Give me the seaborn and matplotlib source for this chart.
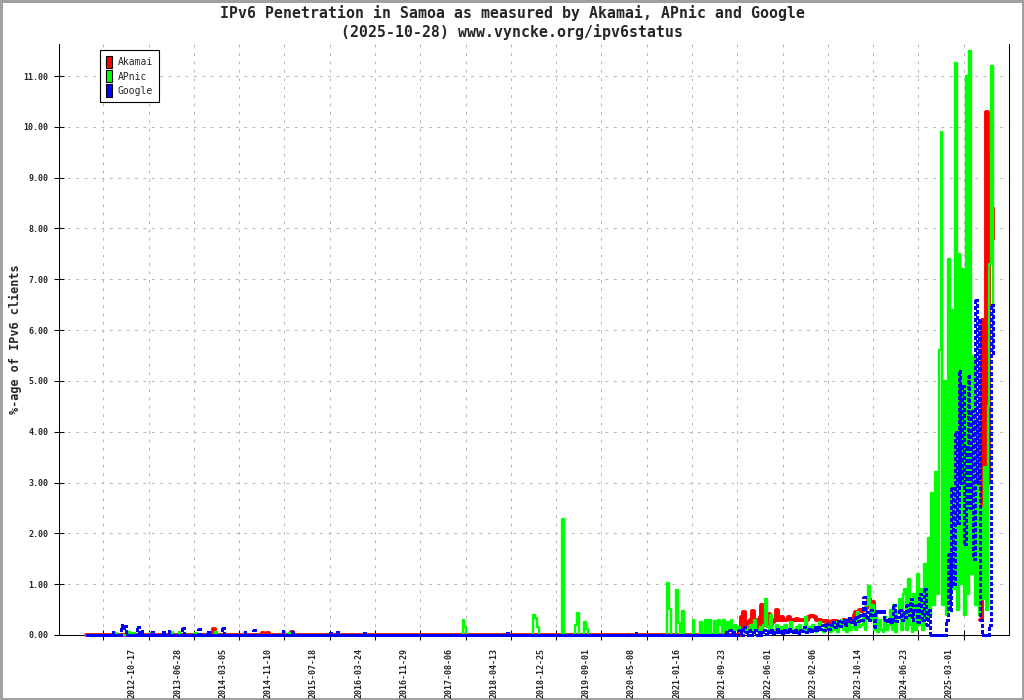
import pandas as pd
import matplotlib.pyplot as plt
import seaborn as sns
from matplotlib.patches import Patch
from matplotlib.ticker import NullFormatter

# one sample every 10 days, ending on the report date
END_DATE = "2025-10-28"
N_SAMPLES = 502

series_names = ["Akamai", "APnic", "Google"]
series_colors = ["#ff0000", "#00ff00", "#0000ff"]

tick_labels = ["2012-10-17", "2013-06-28", "2014-03-05", "2014-11-10", "2015-07-18",
               "2016-03-24", "2016-11-29", "2017-08-06", "2018-04-13", "2018-12-25",
               "2019-09-01", "2020-05-08", "2021-01-16", "2021-09-23", "2022-06-01",
               "2023-02-06", "2023-10-14", "2024-06-23", "2025-03-01"]

# isolated values before late 2021 (date -> % of IPv6 clients), zero otherwise
akamai_spikes = {"2014-01-11": 0.11, "2014-10-09": 0.04, "2014-11-07": 0.04, "2015-03-11": 0.06}

apnic_spikes = {"2012-07-17": 0.04, "2012-09-21": 0.05, "2012-10-24": 0.04, "2013-01-26": 0.04,
                "2013-05-28": 0.05, "2013-06-30": 0.05, "2013-10-02": 0.04, "2014-01-20": 0.05,
                "2014-06-30": 0.04, "2015-02-06": 0.06, "2015-02-28": 0.04,
                "2017-10-23": 0.29, "2017-11-02": 0.15,
                "2018-11-12": 0.39, "2018-11-23": 0.33, "2018-12-04": 0.15,
                "2019-04-25": 2.28, "2019-07-06": 0.2, "2019-07-16": 0.43,
                "2019-08-21": 0.26, "2019-09-01": 0.12,
                "2020-11-26": 1.02, "2020-12-06": 0.52, "2021-01-15": 0.89, "2021-01-25": 0.24,
                "2021-02-06": 0.47, "2021-04-15": 0.3, "2021-05-18": 0.25, "2021-06-20": 0.3,
                "2021-07-12": 0.3, "2021-08-09": 0.28, "2021-09-03": 0.3, "2021-09-13": 0.2}

google_spikes = {"2012-06-29": 0.06, "2012-08-14": 0.2, "2012-08-28": 0.14, "2012-09-10": 0.18,
                 "2012-11-13": 0.15, "2012-12-02": 0.08, "2013-02-01": 0.05, "2013-04-08": 0.06,
                 "2013-05-05": 0.08, "2013-07-20": 0.14, "2013-10-18": 0.12, "2013-12-05": 0.06,
                 "2014-03-04": 0.14, "2014-06-24": 0.05, "2014-08-18": 0.1, "2015-01-24": 0.08,
                 "2015-03-11": 0.06, "2015-10-07": 0.04, "2015-11-24": 0.06, "2016-04-17": 0.04,
                 "2018-06-20": 0.04, "2020-05-25": 0.04}

# last 150 samples (10-day steps, 2021-09-29 .. 2025-10-28); None = no data
akamai_recent = [0, 0, 0, 0, 0, 0, 0, 0, 0,
                 0.1, 0.35, 0.45, 0.15, 0.25, 0.1, 0.3, 0.48, 0.2, 0.3, 0.15, 0.35, 0.6, 0.2,
                 0.25, 0.3, 0.42, 0.2, 0.25, 0.3, 0.5, 0.3,
                 0.3, 0.35, 0.3, 0.3, 0.32, 0.35, 0.3, 0.3, 0.3, 0.32, 0.3, 0.3, 0.3, 0.3, 0.3,
                 0.3, 0.35, 0.38, 0.38, 0.36, 0.3, 0.3, 0.3, 0.27, 0.27,
                 0.25, 0.28, 0.22, 0.25, 0.28, 0.22, 0.28, 0.25, 0.22, 0.28, 0.3, 0.25, 0.28, 0.3, 0.25,
                 0.3, 0.4, 0.45, 0.45, 0.5, 0.48, 0.5, 0.5, 0.55, 0.7, 0.55, 0.65, 0.5]
akamai_recent += [None] * 58
akamai_recent += [0.3, 6.2, 1.4, 10.3, 3.0, 9.4, 7.8, 8.4]

apnic_recent = [0.3, 0.05, 0.25, 0.1, 0.3, 0.05, 0.2, 0.1, 0.15, 0.05,
                0.1, 0.05, 0.15, 0.1, 0.05, 0.2, 0.1, 0.3, 0.1, 0.05, 0.15, 0.1, 0.2, 0.7,
                0.15, 0.1, 0.4, 0.1, 0.05, 0.2, 0.1,
                0.05, 0.15, 0.1, 0.2, 0.05, 0.1, 0.25, 0.1, 0.05, 0.15, 0.1, 0.2, 0.05, 0.1, 0.35,
                0.1, 0.15, 0.05, 0.2, 0.1, 0.05, 0.15, 0.25, 0.1, 0.05, 0.2, 0.1, 0.15, 0.05, 0.2,
                0.1, 0.25, 0.05, 0.15, 0.3, 0.1, 0.2, 0.05, 0.25, 0.1, 0.15, 0.3, 0.1, 0.45,
                0.15, 0.2, 0.35, 0.1, 0.6, 0.97,
                0.3, 0.6, 0.1, 0.4, 0.05, 0.3, 0.1, 0.05, 0.35, 0.1, 0.2, 0.5, 0.1, 0.6, 0.05,
                0.45, 0.7, 0.1, 0.8,
                0.9, 0.1, 1.1, 0.2, 0.05, 0.8, 0.1, 1.2, 0.2, 0.9, 0.1, 1.4, 0.3, 1.9, 0.4,
                2.8, 0.6, 3.2, 0.8, 5.6, 9.9, 0.6, 5.0, 0.4, 7.4, 0.7, 6.4, 0.9, 11.25, 0.5,
                7.5, 1.0, 7.2, 0.4, 11.0, 0.8, 11.5, 1.2, 5.5, 0.6, 4.2, 0.4, 2.5, 0.7, 3.3,
                0.5, 4.5, 7.3, 11.2, 5.6]

google_recent = [0, 0.05, 0, 0.1, 0, 0.05, 0, 0, 0.1, 0.05, 0, 0.15, 0.05, 0, 0.1, 0, 0.05,
                 0.1, 0, 0.05, 0,
                 0.05, 0.1, 0.02, 0.08, 0.05, 0.1, 0.03, 0.06, 0.12, 0.05, 0.08, 0.04, 0.1, 0.06,
                 0.05, 0.12, 0.08, 0.05, 0.1, 0.06, 0.04, 0.1, 0.08, 0.15, 0.06, 0.1, 0.12, 0.08,
                 0.1, 0.15,
                 0.1, 0.15, 0.12, 0.2, 0.1, 0.18, 0.22, 0.12, 0.2, 0.25, 0.15, 0.2, 0.28, 0.18,
                 0.25, 0.3, 0.2, 0.28, 0.33, 0.25,
                 0.3, 0.22, 0.35, 0.28, 0.4, 0.3, 0.75, 0.35, 0.45, 0.3, 0.5, 0.4, 0.15,
                 0.48, 0.46, 0.48, 0.45, 0.47, 0.3, 0.28, 0.32, 0.25, 0.3, 0.6, 0.28, 0.35, 0.5,
                 0.3, 0.45,
                 0.35, 0.6, 0.4, 0.7, 0.3, 0.5, 0.6, 0.25, 0.8, 0.45, 0.3, 0.9, 0.2, 0.5,
                 0, 0, 0, 0, 0, 0, 0, 0, 0,
                 0.3, 1.6, 0.5, 2.9, 1.0, 4.0, 2.2, 5.2, 3.0, 4.9, 1.8, 3.7, 5.1, 2.5, 4.4, 1.5,
                 6.6, 3.0, 6.2, 0.3, 0, 0, 0, 0, 0.2, 6.5, 5.5]

dates = pd.date_range(end=END_DATE, periods=N_SAMPLES, freq="10D")


def build_series(spikes, recent):
    s = pd.Series(0.0, index=dates)
    for d, v in spikes.items():
        k = dates.get_indexer([pd.Timestamp(d)], method="nearest")[0]
        s.iloc[k] = max(s.iloc[k], v)
    s.iloc[-len(recent):] = pd.Series(recent, dtype="float64").values
    return s


df = pd.DataFrame({
    "date": dates,
    "Akamai": build_series(akamai_spikes, akamai_recent).values,
    "APnic": build_series(apnic_spikes, apnic_recent).values,
    "Google": build_series(google_spikes, google_recent).values,
})

# Akamai has a gap without data: one unit per continuous run
df["akamai_run"] = df["Akamai"].isna().cumsum()

# Google is drawn as separate dotted segments (dash pattern restarts per sample)
rows = []
for i in range(len(df) - 1):
    rows.append((df["date"].iloc[i], df["Google"].iloc[i], i))
    rows.append((df["date"].iloc[i + 1], df["Google"].iloc[i + 1], i))
google_segments = pd.DataFrame(rows, columns=["date", "value", "segment"])

sns.set_style("white")
plt.rcParams["font.family"] = ["DejaVu Sans Mono"]

fig = plt.figure(figsize=(10.24, 7.0), dpi=100)
ax = fig.add_axes([58.7 / 1024, 65 / 700, 950.6 / 1024, 591 / 700])

sns.lineplot(data=df.dropna(subset=["Akamai"]), x="date", y="Akamai", units="akamai_run",
             estimator=None, color=series_colors[0], lw=2.8, drawstyle="steps-post",
             clip_on=False, zorder=3, ax=ax)
sns.lineplot(data=df, x="date", y="APnic", color=series_colors[1], lw=1.7,
             drawstyle="steps-post", clip_on=False, zorder=3.1, ax=ax)
sns.lineplot(data=google_segments, x="date", y="value", units="segment", estimator=None,
             color=series_colors[2], lw=1.8, linestyle=(0, (1.2, 0.8)),
             drawstyle="steps-post", antialiased=False, legend=False, clip_on=False,
             zorder=3.2, ax=ax)

ax.set_xlim(pd.Timestamp("2011-09-10"), pd.Timestamp("2026-01-26"))
ax.set_ylim(0, 11.63)

ax.set_xticks(pd.to_datetime(tick_labels))
ax.set_xticklabels(tick_labels, rotation=90, fontsize=6, fontweight="bold")
ax.set_xticks(pd.date_range("2012-05-13", periods=20, freq="6005h"), minor=True)
ax.xaxis.set_minor_formatter(NullFormatter())

ax.set_yticks(range(0, 12))
ax.set_yticklabels([f"{v:.2f}" for v in range(0, 12)], fontsize=6, fontweight="bold")

ax.tick_params(axis="x", which="major", length=0, pad=9.5)
ax.tick_params(axis="x", which="minor", direction="inout", length=7.5, width=0.75,
               color="black", bottom=True)
ax.tick_params(axis="y", which="major", direction="inout", length=7, width=0.75,
               color="black", pad=4, left=True)

grid_kw = dict(color="#b8b8b8", linestyle=(0, (2.8, 5.6)), linewidth=0.72)
ax.xaxis.grid(False, which="major")
ax.xaxis.grid(True, which="minor", **grid_kw)
ax.yaxis.grid(True, which="major", **grid_kw)

for side in ["left", "bottom", "right"]:
    ax.spines[side].set_visible(True)
    ax.spines[side].set_color("black")
    ax.spines[side].set_linewidth(0.75)
ax.spines["top"].set_visible(False)

ax.set_xlabel("")
ax.set_ylabel("%-age of IPv6 clients", fontsize=8.5, fontweight="bold")
ax.yaxis.set_label_coords(-0.039, 0.5)

handles = [Patch(facecolor=c, edgecolor="black", linewidth=0.8, label=n)
           for n, c in zip(series_names, series_colors)]
leg = ax.legend(handles=handles, loc="upper left", bbox_to_anchor=(0.0438, 0.9894),
                borderaxespad=0, frameon=True, fancybox=False, edgecolor="black",
                framealpha=1, fontsize=7, handlelength=0.65, handleheight=1.55,
                handletextpad=0.55, labelspacing=0.2, borderpad=0.6)
leg.get_frame().set_linewidth(0.8)
leg.set_zorder(5)

fig.text(0.5, 1 - 5 / 700,
         "IPv6 Penetration in Samoa as measured by Akamai, APnic and Google\n"
         "(2025-10-28) www.vyncke.org/ipv6status",
         ha="center", va="top", fontsize=10.7, fontweight="bold", linespacing=1.25)

fig.patch.set_edgecolor("#a0a0a0")
fig.patch.set_linewidth(2.5)
fig.savefig("out.png", dpi=100, facecolor="white", edgecolor=fig.get_edgecolor())
